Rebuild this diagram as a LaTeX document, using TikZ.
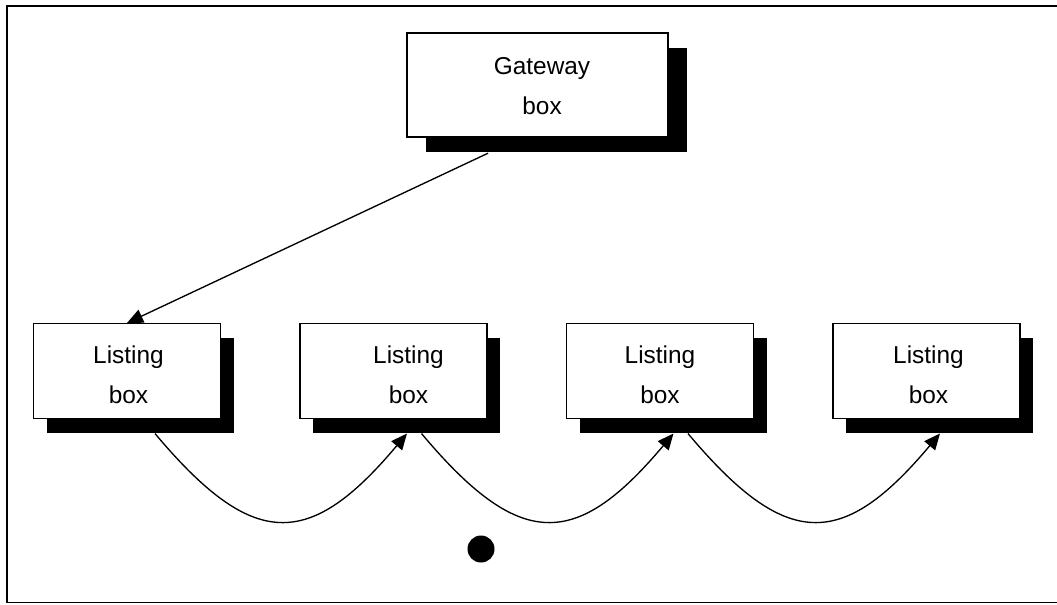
\documentclass[tikz,border=0pt]{standalone}
\usepackage{fontspec}
\setmainfont{Liberation Sans}
\usetikzlibrary{arrows.meta, positioning, shadows}

\begin{document}
\begin{tikzpicture}[x=0.75pt, y=0.75pt,
  plainbox/.style={rectangle, draw, line width=1.1pt, fill=white, inner sep=0pt},
  listbox/.style={plainbox, minimum width=140.25pt, minimum height=70.9pt,
                  drop shadow={shadow xshift=10.1pt, shadow yshift=-10.9pt, fill=black, opacity=1}},
  gatebox/.style={plainbox, minimum width=195.75pt, minimum height=78pt,
                  drop shadow={shadow xshift=14.25pt, shadow yshift=-11.6pt, fill=black, opacity=1}},
  boxtext/.style={font=\fontsize{18.3}{30}\selectfont, align=center, inner sep=0pt},
  arr/.style={-{Triangle[length=12pt, width=10.5pt]}, line width=1pt},
  frame/.style={line width=1.4pt}
]
\useasboundingbox (0,0) rectangle (1057,-604);
\draw[frame] (1060,-6) -- (7,-6) -- (7,-602.5) -- (1060,-602.5);

% gateway on top
\node[gatebox] (gw) at (537.5,-85) {};
\node[boxtext] (gwtxt) at ([xshift=3.4pt, yshift=-0.5pt]gw.center) {Gateway\\box};

% row of listings
\foreach \i/\tx in {1/1.5, 2/15, 3/0, 4/2} {
  \node[listbox] (l\i) at ({127+266.5*(\i-1)},-371) {};
  \node[boxtext] (l\i txt) at ([xshift=\tx*0.75pt, yshift=-2.5pt]l\i.center) {Listing\\box};
}

\draw[arr] ([xshift=-37.1pt, yshift=-11.6pt]gw.south) -- (l1.north);
\foreach \i/\j in {1/2, 2/3, 3/4}
  \draw[arr] ([xshift=21pt, yshift=-10.9pt]l\i.south)
    to[out=-50, in=-130, looseness=1.55] ([xshift=10.1pt, yshift=-10.9pt]l\j.south);

\node[circle, fill=black, minimum size=20.25pt, inner sep=0pt] (dot) at (481,-549) {};
\end{tikzpicture}
\end{document}
